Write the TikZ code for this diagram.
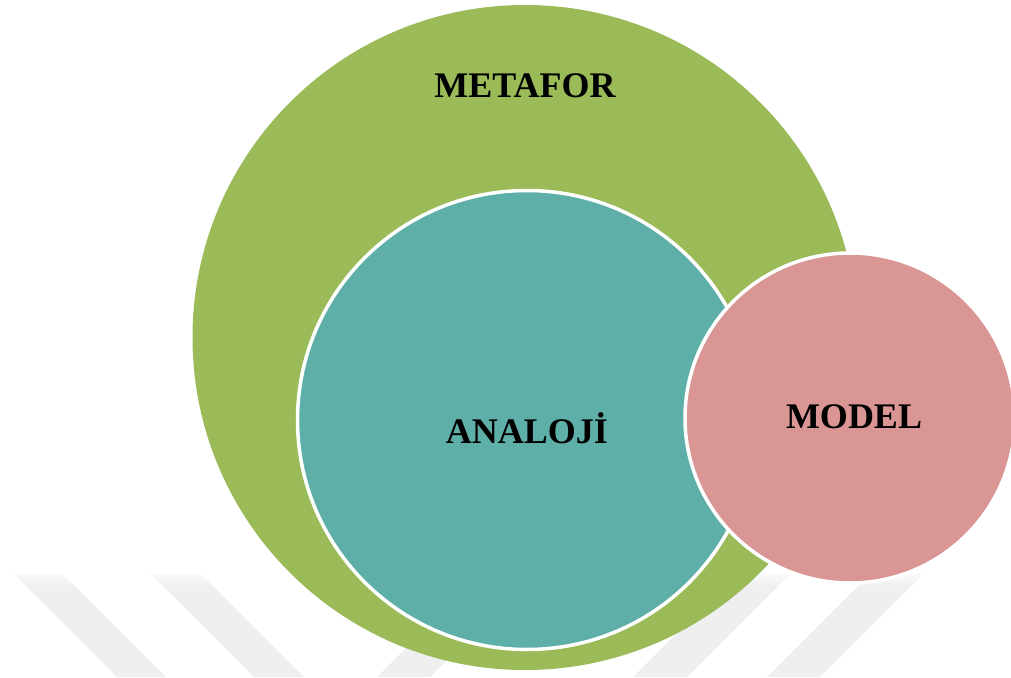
\documentclass[tikz,border=0pt]{standalone}
\usepackage{fontspec}
\setmainfont{Liberation Serif}
\usetikzlibrary{fadings}
\definecolor{metaforgreen}{HTML}{9BBB59}
\definecolor{analojiteal}{HTML}{5EAFA7}
\definecolor{modelpink}{HTML}{D99694}
\definecolor{markgray}{HTML}{EFEFEF}
\tikzset{
  setcircle/.style={circle, inner sep=0pt, outer sep=0pt},
  ringed/.style={draw=white, line width=3.5pt},
  setlabel/.style={anchor=base, inner sep=0pt, font=\fontsize{36}{36}\selectfont\bfseries},
  band/.style={fill=markgray, draw=none}
}
\begin{document}
\begin{tikzpicture}[x=1pt, y=-1pt]
  \useasboundingbox (0,0) rectangle (1011,677);
  \clip (0,0) rectangle (1011,677);
  \fill[white] (0,0) rectangle (1011,677);

  % faint diagonal bands along the bottom edge
  \fill[band] (13,573) -- (62,573) -- (166,677) -- (117,677) -- cycle;
  \fill[band] (150,573) -- (200,573) -- (304,677) -- (254,677) -- cycle;
  \fill[band] (481,573) -- (534,573) -- (430,677) -- (377,677) -- cycle;
  \fill[band] (737,573) -- (791,573) -- (687,677) -- (633,677) -- cycle;
  \fill[band] (871,573) -- (924,573) -- (820,677) -- (767,677) -- cycle;
  % soften the upper ends of the bands
  \fill[white, path fading=south] (0,570) rectangle (1011,586);

  % nested sets
  \node[setcircle, fill=metaforgreen, minimum size=665pt] (metafor) at (525,337.5) {};
  \node[setcircle, ringed, fill=analojiteal, minimum size=459pt] (analoji) at (527,420) {};
  \node[setcircle, ringed, fill=modelpink, minimum size=330pt] (model) at (850,418) {};

  % set names
  \node[setlabel] (metaforlabel) at (525,97) {METAFOR};
  \node[setlabel] (analojilabel) at (527,443) {ANALOJİ};
  \node[setlabel] (modellabel) at (854,428) {MODEL};
\end{tikzpicture}
\end{document}
